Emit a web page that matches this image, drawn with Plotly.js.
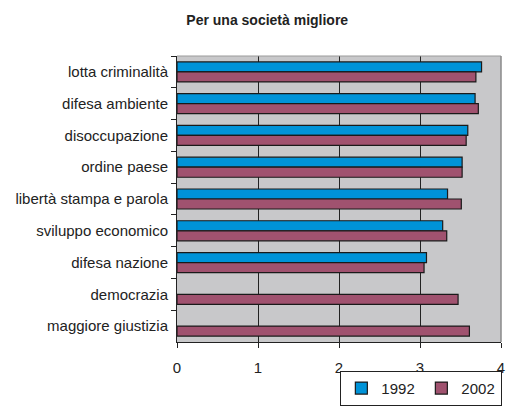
<!DOCTYPE html>
<html>
<head>
<meta charset="utf-8">
<script src="https://cdn.plot.ly/plotly-3.0.1.min.js"></script>
<style>
html,body{margin:0;padding:0;background:#fff;}
#chart{width:510px;height:407px;}
</style>
</head>
<body>
<div id="chart"></div>
<script>
const categories = [
  "lotta criminalità",
  "difesa ambiente",
  "disoccupazione",
  "ordine paese",
  "libertà stampa e parola",
  "sviluppo economico",
  "difesa nazione",
  "democrazia",
  "maggiore giustizia"
];
const values1992 = [3.76, 3.68, 3.59, 3.52, 3.34, 3.28, 3.08, null, null];
const values2002 = [3.69, 3.72, 3.57, 3.52, 3.51, 3.33, 3.05, 3.47, 3.61];
const seriesNames = ["1992", "2002"];
const xTicks = [0, 1, 2, 3, 4];

const font = "Liberation Sans, Arial, sans-serif";

const traces = [
  {
    type: "bar", orientation: "h", name: seriesNames[0],
    y: categories, x: values1992,
    marker: {color: "#0093D8", line: {color: "#1a1a1a", width: 1.2}}
  },
  {
    type: "bar", orientation: "h", name: seriesNames[1],
    y: categories, x: values2002,
    marker: {color: "#A0526F", line: {color: "#1a1a1a", width: 1.2}}
  }
];

const layout = {
  width: 510, height: 407,
  margin: {l: 177, r: 9, t: 56, b: 65, pad: 0, autoexpand: false},
  paper_bgcolor: "#ffffff",
  plot_bgcolor: "#C8C8CA",
  barmode: "group",
  bargap: 0.37,
  bargroupgap: 0,
  font: {family: font, size: 15, color: "#222"},
  title: {
    text: "<b>Per una società migliore</b>",
    font: {family: font, size: 14, color: "#222"},
    x: 0.524, xref: "container", xanchor: "center",
    y: 0.951, yref: "container", yanchor: "middle"
  },
  xaxis: {
    range: [0, 4],
    tickvals: xTicks,
    ticktext: xTicks.map(String),
    ticks: "outside", ticklen: 5, tickcolor: "#222", tickwidth: 1,
    showline: true, linecolor: "#222", linewidth: 1,
    showgrid: true, gridcolor: "#222", gridwidth: 1,
    zeroline: false,
    ticklabelstandoff: 7,
    tickfont: {family: font, size: 15, color: "#222"},
    fixedrange: true
  },
  yaxis: {
    type: "category",
    autorange: "reversed",
    ticks: "outside", ticklen: 5, tickcolor: "#222", tickwidth: 1,
    tickson: "boundaries",
    showline: true, linecolor: "#222", linewidth: 1,
    showgrid: false, zeroline: false,
    ticklabelstandoff: 5,
    tickfont: {family: font, size: 15, color: "#222"},
    fixedrange: true
  },
  shapes: [
    {type: "line", xref: "paper", yref: "paper", x0: 0, x1: 1, y0: 1, y1: 1,
     line: {color: "#9a9a9a", width: 1}, layer: "above"},
    {type: "line", xref: "paper", yref: "paper", x0: 1, x1: 1, y0: 0, y1: 1,
     line: {color: "#8a8a8a", width: 1.5}, layer: "above"}
  ],
  legend: {
    orientation: "h",
    xref: "container", yref: "container",
    x: 0.985, xanchor: "right",
    y: 0.003, yanchor: "bottom",
    bordercolor: "#222", borderwidth: 1,
    bgcolor: "#ffffff",
    font: {family: font, size: 15, color: "#222"},
    itemwidth: 30,
    entrywidth: 35,
    traceorder: "normal"
  },
  showlegend: true
};

Plotly.newPlot("chart", traces, layout, {displayModeBar: false, staticPlot: true});
</script>
</body>
</html>
